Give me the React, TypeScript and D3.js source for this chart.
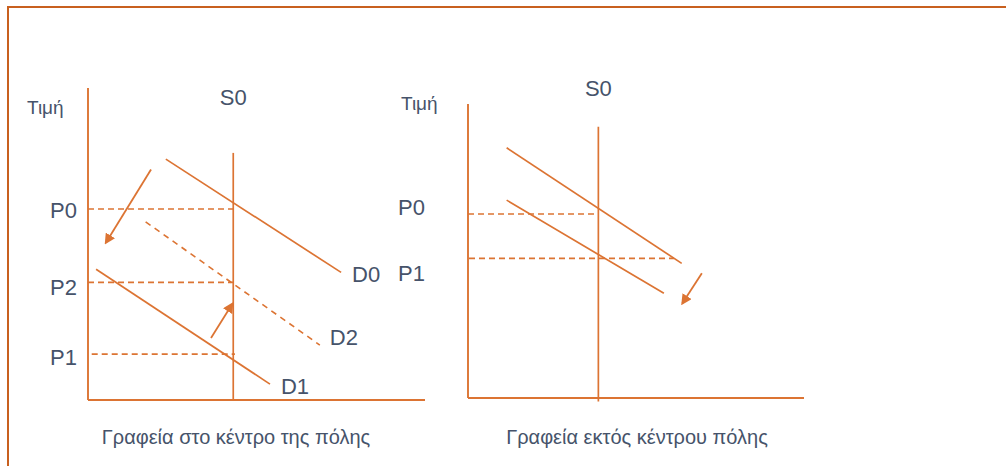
import React from "react";
import * as d3 from "d3";

// ---------- data (quantity / price units, 0..100 on each panel) ----------
type Seg = { name: string; q0: number; p0: number; q1: number; p1: number };

const leftDemand: Seg[] = [
  { name: "D0", q0: 23.1, p0: 77.2, q1: 75.1, p1: 40.9 },
  { name: "D1", q0: 2.4, p0: 41.9, q1: 54.0, p1: 5.1 },
];
const leftDemandShifted: Seg[] = [
  { name: "D2", q0: 17.1, p0: 57.1, q1: 68.8, p1: 17.6 },
];
const leftSupply = { name: "S0", q: 43.1, pTop: 79.2, pBottom: 0 };
const leftPrices = [
  { name: "P0", p: 61.2, qStart: 0, qEnd: 43.1 },
  { name: "P2", p: 37.7, qStart: 0, qEnd: 43.6 },
  { name: "P1", p: 14.7, qStart: 1.1, qEnd: 43.6 },
];
const leftArrows: Seg[] = [
  { name: "shift-down", q0: 18.7, p0: 73.9, q1: 5.3, p1: 50.4 },
  { name: "shift-up", q0: 36.5, p0: 19.9, q1: 42.8, p1: 30.8 },
];

const rightDemand: Seg[] = [
  { name: "D0", q0: 11.5, p0: 85.1, q1: 63.6, p1: 45.8 },
  { name: "D1", q0: 11.5, p0: 67.3, q1: 58.3, p1: 35.6 },
];
const rightSupply = { name: "S0", q: 38.8, pTop: 92.3, pBottom: -1.2 };
const rightPrices = [
  { name: "P0", p: 62.6, qStart: 0, qEnd: 38.8 },
  { name: "P1", p: 47.5, qStart: 0.3, qEnd: 61.3 },
];
const rightArrows: Seg[] = [
  { name: "shift-down", q0: 69.6, p0: 42.4, q1: 63.8, p1: 32.2 },
];

const axisLabel = "Τιμή";
const leftTitle = "Γραφεία στο κέντρο της πόλης";
const rightTitle = "Γραφεία εκτός κέντρου πόλης";

// ---------- styles / layout ----------
const ORANGE = "#DC7433";
const FRAME = "#C8601F";
const TEXT = "#46536A";
const FONT = "'Liberation Sans', Arial, sans-serif";
const leftPriceLabelDy: Record<string, number> = { P0: 1, P2: 5, P1: 3 };
const rightPriceLabelDy: Record<string, number> = { P0: -7, P1: 15 };

type PanelProps = {
  x: d3.ScaleLinear<number, number>;
  y: d3.ScaleLinear<number, number>;
  demand: Seg[];
  dashedDemand: Seg[];
  supply: { name: string; q: number; pTop: number; pBottom: number };
  prices: { name: string; p: number; qStart: number; qEnd: number }[];
  priceDy: Record<string, number>;
  arrows: Seg[];
  labelDemand: boolean;
  title: string;
  titleX: number;
  priceLabelX: number;
  titleY: number;
  supplyLabelDy: number;
  axisLabelPos: [number, number];
};

function Panel(props: PanelProps) {
  const { x, y } = props;
  const [q0, q1] = x.domain();
  const [p0, p1] = y.domain();
  return (
    <g>
      {/* axes */}
      <line x1={x(q0)} y1={y(p1)} x2={x(q0)} y2={y(p0)} stroke={ORANGE} strokeWidth={1.9} />
      <line x1={x(q0)} y1={y(p0)} x2={x(q1)} y2={y(p0)} stroke={ORANGE} strokeWidth={1.9} />
      {/* supply */}
      <line
        x1={x(props.supply.q)} y1={y(props.supply.pTop)}
        x2={x(props.supply.q)} y2={y(props.supply.pBottom)}
        stroke={ORANGE} strokeWidth={1.7}
      />
      <text x={x(props.supply.q)} y={y(props.supply.pTop) + props.supplyLabelDy}
        textAnchor="middle" fontSize={22} fill={TEXT} fontFamily={FONT}>
        {props.supply.name}
      </text>
      {/* price dashed lines */}
      {props.prices.map((d) => (
        <g key={d.name}>
          <line x1={x(d.qStart)} y1={y(d.p)} x2={x(d.qEnd)} y2={y(d.p)}
            stroke={ORANGE} strokeWidth={1.6} strokeDasharray="6,4" />
          <text x={props.priceLabelX} y={y(d.p) + (props.priceDy[d.name] || 0)} dy="0.36em" textAnchor="end"
            fontSize={22} fill={TEXT} fontFamily={FONT}>{d.name}</text>
        </g>
      ))}
      {/* demand lines */}
      {props.demand.map((d) => (
        <g key={d.name}>
          <line x1={x(d.q0)} y1={y(d.p0)} x2={x(d.q1)} y2={y(d.p1)} stroke={ORANGE} strokeWidth={1.7} />
          {props.labelDemand && (
            <text x={x(d.q1) + 11} y={y(d.p1) + 2} dy="0.36em" fontSize={22} fill={TEXT} fontFamily={FONT}>{d.name}</text>
          )}
        </g>
      ))}
      {props.dashedDemand.map((d) => (
        <g key={d.name}>
          <line x1={x(d.q0)} y1={y(d.p0)} x2={x(d.q1)} y2={y(d.p1)} stroke={ORANGE} strokeWidth={1.6} strokeDasharray="6,5" />
          {props.labelDemand && (
            <text x={x(d.q1) + 10} y={y(d.p1) - 8} dy="0.36em" fontSize={22} fill={TEXT} fontFamily={FONT}>{d.name}</text>
          )}
        </g>
      ))}
      {/* arrows */}
      {props.arrows.map((d) => (
        <line key={d.name} x1={x(d.q0)} y1={y(d.p0)} x2={x(d.q1)} y2={y(d.p1)}
          stroke={ORANGE} strokeWidth={1.8} markerEnd="url(#arrowhead)" />
      ))}
      <text x={props.axisLabelPos[0]} y={props.axisLabelPos[1]} fontSize={19} fill={TEXT} fontFamily={FONT}>{axisLabel}</text>
      <text x={props.titleX} y={props.titleY} textAnchor="middle" fontSize={20} fill={TEXT} fontFamily={FONT}>{props.title}</text>
    </g>
  );
}

export default function App() {
  const xl = d3.scaleLinear().domain([0, 100]).range([88, 425]);
  const yl = d3.scaleLinear().domain([0, 100]).range([400, 88]);
  const xr = d3.scaleLinear().domain([0, 100]).range([468, 804]);
  const yr = d3.scaleLinear().domain([0, 100]).range([398, 104]);

  return (
    <svg width={1006} height={466} style={{ position: "absolute", left: 0, top: 0, background: "#fff" }}>
      <defs>
        <marker id="arrowhead" viewBox="0 0 10 10" refX={8} refY={5} markerWidth={6} markerHeight={6}
          orient="auto" markerUnits="strokeWidth">
          <path d="M0,0 L10,5 L0,10 z" fill={ORANGE} />
        </marker>
      </defs>
      {/* frame: top and left edges visible */}
      <rect x={8} y={7} width={1010} height={480} fill="none" stroke={FRAME} strokeWidth={2} />
      <Panel x={xl} y={yl} demand={leftDemand} dashedDemand={leftDemandShifted} supply={leftSupply}
        prices={leftPrices} priceDy={leftPriceLabelDy} arrows={leftArrows} labelDemand={true} title={leftTitle}
        titleX={236} priceLabelX={77} titleY={444} supplyLabelDy={-48} axisLabelPos={[27, 114]} />
      <Panel x={xr} y={yr} demand={rightDemand} dashedDemand={[]} supply={rightSupply}
        prices={rightPrices} priceDy={rightPriceLabelDy} arrows={rightArrows} labelDemand={false} title={rightTitle}
        titleX={637} priceLabelX={425} titleY={444} supplyLabelDy={-31} axisLabelPos={[401, 110]} />
    </svg>
  );
}
